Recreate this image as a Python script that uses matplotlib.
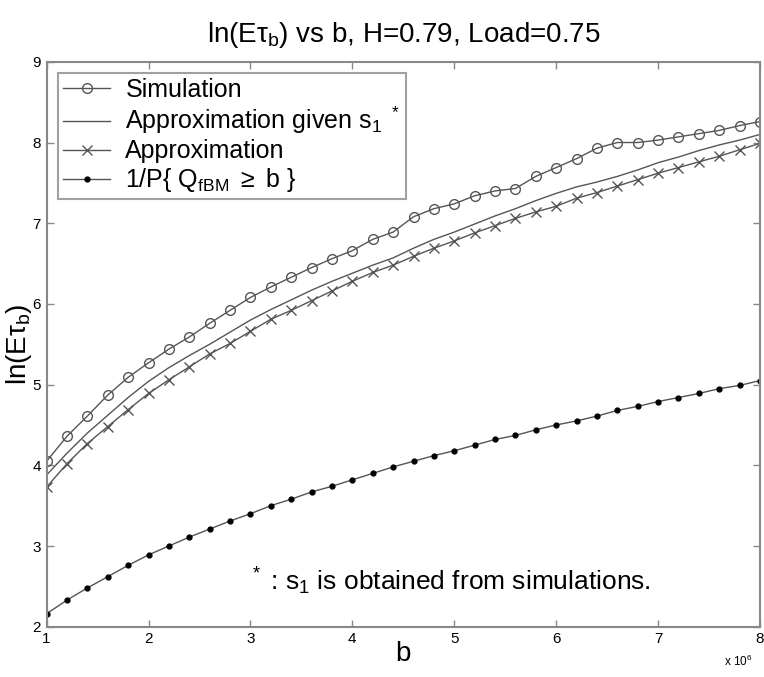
import numpy as np
import matplotlib
matplotlib.use("Agg")
import matplotlib.pyplot as plt

plt.rcParams["font.family"] = ["Liberation Sans", "DejaVu Sans"]
plt.rcParams["mathtext.fontset"] = "custom"
plt.rcParams["mathtext.rm"] = "Liberation Sans"
plt.rcParams["mathtext.it"] = "Liberation Sans"
plt.rcParams["mathtext.bf"] = "Liberation Sans:bold"

# buffer size b, in units of 10^6
b = [1.0, 1.2, 1.4, 1.6, 1.8, 2.0, 2.2, 2.4, 2.6, 2.8, 3.0, 3.2,
     3.4, 3.6, 3.8, 4.0, 4.2, 4.4, 4.6, 4.8, 5.0, 5.2, 5.4, 5.6,
     5.8, 6.0, 6.2, 6.4, 6.6, 6.8, 7.0, 7.2, 7.4, 7.6, 7.8, 8.0]

sim = [4.05, 4.36, 4.61, 4.87, 5.09, 5.27, 5.44, 5.59, 5.76, 5.92, 6.08, 6.21,
       6.33, 6.45, 6.56, 6.66, 6.80, 6.89, 7.08, 7.18, 7.24, 7.34, 7.40, 7.43,
       7.58, 7.69, 7.80, 7.93, 8.00, 8.00, 8.03, 8.07, 8.11, 8.15, 8.21, 8.26]

approx_s1 = [3.88, 4.15, 4.40, 4.62, 4.84, 5.04, 5.21, 5.36, 5.50, 5.65, 5.80, 5.93,
             6.05, 6.17, 6.28, 6.38, 6.48, 6.57, 6.69, 6.80, 6.89, 6.99, 7.09, 7.18,
             7.28, 7.37, 7.45, 7.51, 7.58, 7.66, 7.75, 7.82, 7.90, 7.97, 8.03, 8.10]

approx = [3.73, 4.02, 4.27, 4.48, 4.69, 4.89, 5.06, 5.22, 5.38, 5.51, 5.66, 5.81,
          5.92, 6.04, 6.16, 6.28, 6.39, 6.48, 6.59, 6.69, 6.78, 6.88, 6.97, 7.06,
          7.14, 7.21, 7.31, 7.38, 7.46, 7.54, 7.62, 7.69, 7.76, 7.83, 7.91, 7.99]

inv_p = [2.16, 2.33, 2.48, 2.62, 2.76, 2.89, 3.00, 3.11, 3.21, 3.31, 3.40, 3.50,
         3.58, 3.67, 3.74, 3.82, 3.90, 3.98, 4.05, 4.12, 4.18, 4.25, 4.32, 4.37,
         4.44, 4.50, 4.55, 4.61, 4.68, 4.73, 4.79, 4.84, 4.89, 4.95, 4.99, 5.05]

line_col = "#555555"
axis_col = "#888888"

fig = plt.figure(figsize=(7.64, 6.77), dpi=100)
ax = fig.add_axes([0.061, 0.0743, 0.9338, 0.8344])

ax.plot(b, sim, color=line_col, lw=1.0, marker="o", ms=7, mfc="none",
        mec=line_col, mew=1.0, label="Simulation")
ax.plot(b, approx_s1, color=line_col, lw=1.0,
        label=r"Approximation given s$_1$ $^*$")
ax.plot(b, approx, color=line_col, lw=1.0, marker="x", ms=7,
        mec=line_col, mew=1.0, label="Approximation")
ax.plot(b, inv_p, color=line_col, lw=1.0, marker="o", ms=3.5, mfc="black",
        mec="black", label=r"1/P{ Q$_{\mathrm{fBM}}$ $\geq$ b }")

ax.set_xlim(1, 8)
ax.set_ylim(2, 9)
ax.set_xticks(range(1, 9))
ax.set_yticks(range(2, 10))
ax.tick_params(direction="in", length=5, width=1.0, color=axis_col,
               labelsize=11, top=True, right=True, pad=4)
for s in ax.spines.values():
    s.set_color(axis_col)
    s.set_linewidth(1.5)

ax.set_title(r"ln(E$\tau_b$) vs b, H=0.79, Load=0.75", fontsize=20, pad=14)
ax.set_xlabel("b", fontsize=20, labelpad=-4)
ax.set_ylabel(r"ln(E$\tau_b$)", fontsize=20, labelpad=-1)

leg = ax.legend(loc="upper left", fontsize=18, frameon=True, fancybox=False,
                handlelength=1.9, handletextpad=0.6, labelspacing=0.12,
                borderpad=0.2, borderaxespad=0.45)
leg.get_frame().set_edgecolor(axis_col)
leg.get_frame().set_linewidth(1.5)

ax.text(4.96, 2.45, r"$^*$ : s$_1$ is obtained from simulations.",
        fontsize=19, ha="center", va="baseline")
fig.text(0.985, 0.012, r"x 10$^6$", fontsize=8.5, ha="right", va="bottom")

fig.savefig("out.png", dpi=100)
